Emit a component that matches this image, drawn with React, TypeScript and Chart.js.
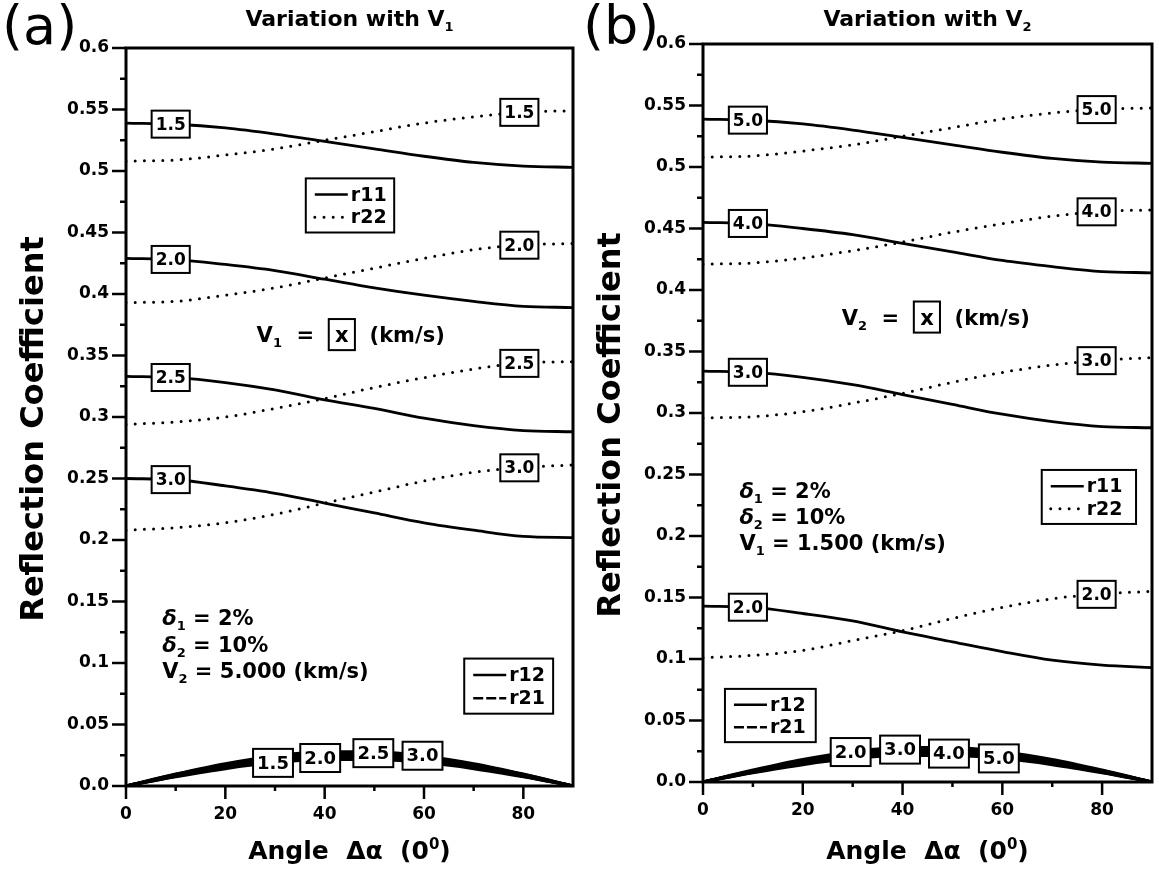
import React, { useEffect, useRef } from 'react';
import { Chart, registerables } from 'chart.js';

Chart.register(...registerables);

const FONT = '"DejaVu Sans", "Liberation Sans", sans-serif';

// ---------------- data ----------------
const ANGLES = [0, 10, 20, 30, 40, 50, 60, 70, 80, 90];
const X_TICK_STEP = 20;
const Y_TICK_STEP = 0.05;
const Y_MAX = 0.6;
const X_MAX = 90;

// Panel (a): variation with V1 (V2 = 5.000 km/s)
const A_CASES = ['1.5', '2.0', '2.5', '3.0'];
const A_R11_15 = [0.539, 0.538, 0.535, 0.530, 0.524, 0.518, 0.512, 0.507, 0.504, 0.503];
const A_R22_15 = [0.508, 0.509, 0.513, 0.518, 0.525, 0.532, 0.539, 0.544, 0.548, 0.549];
const A_R11_20 = [0.429, 0.428, 0.424, 0.419, 0.412, 0.405, 0.399, 0.394, 0.390, 0.389];
const A_R22_20 = [0.393, 0.394, 0.399, 0.405, 0.413, 0.421, 0.429, 0.436, 0.440, 0.441];
const A_R11_25 = [0.333, 0.332, 0.328, 0.322, 0.314, 0.307, 0.299, 0.293, 0.289, 0.288];
const A_R22_25 = [0.294, 0.296, 0.300, 0.307, 0.315, 0.324, 0.332, 0.339, 0.344, 0.345];
const A_R11_30 = [0.250, 0.249, 0.244, 0.238, 0.230, 0.222, 0.214, 0.208, 0.203, 0.202];
const A_R22_30 = [0.208, 0.210, 0.214, 0.221, 0.230, 0.239, 0.248, 0.255, 0.259, 0.261];
const A_R12_15 = [0, 0.0075, 0.0141, 0.0190, 0.0216, 0.0216, 0.0190, 0.0141, 0.0075, 0];
const A_R21_15 = [0, 0.0082, 0.0154, 0.0208, 0.0236, 0.0236, 0.0208, 0.0154, 0.0082, 0];
const A_R12_20 = [0, 0.0080, 0.0150, 0.0202, 0.0230, 0.0230, 0.0202, 0.0150, 0.0080, 0];
const A_R21_20 = [0, 0.0088, 0.0165, 0.0222, 0.0252, 0.0252, 0.0222, 0.0165, 0.0088, 0];
const A_R12_25 = [0, 0.0085, 0.0160, 0.0215, 0.0245, 0.0245, 0.0215, 0.0160, 0.0085, 0];
const A_R21_25 = [0, 0.0093, 0.0175, 0.0235, 0.0267, 0.0267, 0.0235, 0.0175, 0.0093, 0];
const A_R12_30 = [0, 0.0089, 0.0167, 0.0225, 0.0256, 0.0256, 0.0225, 0.0167, 0.0089, 0];
const A_R21_30 = [0, 0.0097, 0.0182, 0.0245, 0.0279, 0.0279, 0.0245, 0.0182, 0.0097, 0];

// Panel (b): variation with V2 (V1 = 1.500 km/s)
const B_CASES = ['5.0', '4.0', '3.0', '2.0'];
const B_R11_50 = [0.539, 0.538, 0.535, 0.530, 0.524, 0.518, 0.512, 0.507, 0.504, 0.503];
const B_R22_50 = [0.508, 0.509, 0.513, 0.518, 0.525, 0.532, 0.539, 0.544, 0.547, 0.548];
const B_R11_40 = [0.455, 0.454, 0.450, 0.445, 0.438, 0.431, 0.424, 0.419, 0.415, 0.414];
const B_R22_40 = [0.421, 0.422, 0.426, 0.432, 0.439, 0.447, 0.454, 0.460, 0.464, 0.465];
const B_R11_30 = [0.334, 0.333, 0.329, 0.323, 0.315, 0.307, 0.299, 0.293, 0.289, 0.288];
const B_R22_30 = [0.296, 0.297, 0.301, 0.308, 0.316, 0.325, 0.333, 0.339, 0.343, 0.345];
const B_R11_20 = [0.143, 0.142, 0.137, 0.131, 0.122, 0.114, 0.106, 0.099, 0.095, 0.093];
const B_R22_20 = [0.101, 0.103, 0.107, 0.115, 0.123, 0.133, 0.142, 0.149, 0.153, 0.155];
const B_R12_50 = [0, 0.0075, 0.0141, 0.0190, 0.0216, 0.0216, 0.0190, 0.0141, 0.0075, 0];
const B_R21_50 = [0, 0.0082, 0.0154, 0.0208, 0.0236, 0.0236, 0.0208, 0.0154, 0.0082, 0];
const B_R12_40 = [0, 0.0080, 0.0150, 0.0203, 0.0231, 0.0231, 0.0203, 0.0150, 0.0080, 0];
const B_R21_40 = [0, 0.0087, 0.0163, 0.0220, 0.0250, 0.0250, 0.0220, 0.0163, 0.0087, 0];
const B_R12_30 = [0, 0.0085, 0.0160, 0.0216, 0.0246, 0.0246, 0.0216, 0.0160, 0.0085, 0];
const B_R21_30 = [0, 0.0092, 0.0173, 0.0233, 0.0265, 0.0265, 0.0233, 0.0173, 0.0092, 0];
const B_R12_20 = [0, 0.0089, 0.0168, 0.0226, 0.0257, 0.0257, 0.0226, 0.0168, 0.0089, 0];
const B_R21_20 = [0, 0.0097, 0.0183, 0.0246, 0.0280, 0.0280, 0.0246, 0.0183, 0.0097, 0];

// ---------------- rich text helpers ----------------
type Seg = { t: string; sub?: boolean; sup?: boolean; it?: boolean; box?: boolean };

function segFont(size: number, seg: Seg, weight: string) {
  const s = seg.sub || seg.sup ? Math.round(size * 0.6) : size;
  return `${seg.it ? 'italic ' : ''}${weight} ${s}px ${FONT}`;
}

function richWidth(ctx: CanvasRenderingContext2D, segs: Seg[], size: number, weight: string) {
  let w = 0;
  for (const s of segs) {
    ctx.font = segFont(size, s, weight);
    w += ctx.measureText(s.t).width + (s.box ? size * 0.6 : 0);
  }
  return w;
}

function drawRich(
  ctx: CanvasRenderingContext2D,
  segs: Seg[],
  x: number,
  yMid: number,
  size: number,
  align: 'left' | 'center',
  weight = 'bold'
) {
  const w = richWidth(ctx, segs, size, weight);
  let cx = align === 'center' ? x - w / 2 : x;
  const base = yMid + size * 0.36;
  ctx.textAlign = 'left';
  ctx.textBaseline = 'alphabetic';
  for (const s of segs) {
    ctx.font = segFont(size, s, weight);
    const tw = ctx.measureText(s.t).width;
    if (s.box) {
      const pad = size * 0.3;
      ctx.lineWidth = 2;
      ctx.strokeRect(cx, yMid - size * 0.74, tw + 2 * pad, size * 1.48);
      ctx.fillText(s.t, cx + pad, base);
      cx += tw + 2 * pad;
    } else {
      const dy = s.sub ? size * 0.24 : s.sup ? -size * 0.42 : 0;
      ctx.fillText(s.t, cx, base + dy);
      cx += tw;
    }
  }
}

function interp(arr: number[], at: number) {
  for (let i = 0; i < ANGLES.length - 1; i++) {
    if (at >= ANGLES[i] && at <= ANGLES[i + 1]) {
      const f = (at - ANGLES[i]) / (ANGLES[i + 1] - ANGLES[i]);
      return arr[i] + f * (arr[i + 1] - arr[i]);
    }
  }
  return arr[arr.length - 1];
}

function valueBox(ctx: CanvasRenderingContext2D, text: string, px: number, py: number, size = 17) {
  ctx.font = `bold ${size}px ${FONT}`;
  const tw = ctx.measureText(text).width;
  const w = tw + 8;
  const h = size + 10;
  ctx.fillStyle = '#fff';
  ctx.fillRect(px - w / 2, py - h / 2, w, h);
  ctx.strokeStyle = '#000';
  ctx.lineWidth = 2;
  ctx.strokeRect(px - w / 2, py - h / 2, w, h);
  ctx.fillStyle = '#000';
  ctx.textAlign = 'center';
  ctx.textBaseline = 'middle';
  ctx.fillText(text, px, py + 1);
}

// ---------------- panel configs ----------------
interface PanelCfg {
  key: string;
  tag: string;
  titleSegs: Seg[];
  cases: string[];
  r11: number[][];
  r22: number[][];
  r12: number[][];
  r21: number[][];
  canvasLeft: number;
  canvasWidth: number;
  area: { left: number; right: number; top: number; bottom: number };
  yTitleX: number;
  tagX: number;
  leftLabelAt: number;
  rightLabelAt: number;
  bandLabels: { series: 'r12' | 'r21'; at: number }[];
  legendMain: number[];
  legendBand: number[];
  vEq: { x: number; y: number; segs: Seg[] };
  params: { x: number; ys: number[]; lines: Seg[][] };
}

const PANEL_A: PanelCfg = {
  key: 'a',
  tag: '(a)',
  titleSegs: [{ t: 'Variation with V' }, { t: '1', sub: true }],
  cases: A_CASES,
  r11: [A_R11_15, A_R11_20, A_R11_25, A_R11_30],
  r22: [A_R22_15, A_R22_20, A_R22_25, A_R22_30],
  r12: [A_R12_15, A_R12_20, A_R12_25, A_R12_30],
  r21: [A_R21_15, A_R21_20, A_R21_25, A_R21_30],
  canvasLeft: 0,
  canvasWidth: 580,
  area: { left: 126, right: 573, top: 48, bottom: 786 },
  yTitleX: 31,
  tagX: 2,
  leftLabelAt: 9,
  rightLabelAt: 79.2,
  bandLabels: [
    { series: 'r12', at: 29.6 },
    { series: 'r12', at: 39.1 },
    { series: 'r21', at: 49.8 },
    { series: 'r21', at: 59.7 },
  ],
  legendMain: [36.2, 54.0, 0.494, 0.45],
  legendBand: [68.1, 86.0, 0.1036, 0.0588],
  vEq: { x: 26.3, y: 0.367, segs: [{ t: 'V' }, { t: '1', sub: true }, { t: '  =  ' }, { t: 'x', box: true }, { t: '  (km/s)' }] },
  params: {
    x: 7.3,
    ys: [0.137, 0.115, 0.094],
    lines: [
      [{ t: 'δ', it: true }, { t: '1', sub: true }, { t: ' = 2%' }],
      [{ t: 'δ', it: true }, { t: '2', sub: true }, { t: ' = 10%' }],
      [{ t: 'V' }, { t: '2', sub: true }, { t: ' = 5.000 (km/s)' }],
    ],
  },
};

const PANEL_B: PanelCfg = {
  key: 'b',
  tag: '(b)',
  titleSegs: [{ t: 'Variation with V' }, { t: '2', sub: true }],
  cases: B_CASES,
  r11: [B_R11_50, B_R11_40, B_R11_30, B_R11_20],
  r22: [B_R22_50, B_R22_40, B_R22_30, B_R22_20],
  r12: [B_R12_20, B_R12_30, B_R12_40, B_R12_50],
  r21: [B_R21_20, B_R21_30, B_R21_40, B_R21_50],
  canvasLeft: 580,
  canvasWidth: 579,
  area: { left: 123, right: 572, top: 44, bottom: 782 },
  yTitleX: 28,
  tagX: 3,
  leftLabelAt: 9,
  rightLabelAt: 78.9,
  bandLabels: [
    { series: 'r21', at: 29.6 },
    { series: 'r21', at: 39.5 },
    { series: 'r12', at: 49.3 },
    { series: 'r12', at: 59.3 },
  ],
  legendMain: [67.9, 86.8, 0.2537, 0.2098],
  legendBand: [4.4, 22.6, 0.0757, 0.0324],
  vEq: { x: 27.8, y: 0.378, segs: [{ t: 'V' }, { t: '2', sub: true }, { t: '  =  ' }, { t: 'x', box: true }, { t: '  (km/s)' }] },
  params: {
    x: 7.3,
    ys: [0.2374, 0.2157, 0.1946],
    lines: [
      [{ t: 'δ', it: true }, { t: '1', sub: true }, { t: ' = 2%' }],
      [{ t: 'δ', it: true }, { t: '2', sub: true }, { t: ' = 10%' }],
      [{ t: 'V' }, { t: '1', sub: true }, { t: ' = 1.500 (km/s)' }],
    ],
  },
};

// band labels: panel b's band arrays are ordered 2.0,3.0,4.0,5.0
const BAND_LABEL_TEXT: Record<string, string[]> = {
  a: A_CASES,
  b: ['2.0', '3.0', '4.0', '5.0'],
};

const DOT_DASH = [0, 9.2];
const R21_DASH = [10, 3];

function makePlugin(cfg: PanelCfg) {
  return {
    id: 'decor_' + cfg.key,
    afterDatasetsDraw(chart: any) {
      const ctx: CanvasRenderingContext2D = chart.ctx;
      const xs = chart.scales.x;
      const ys = chart.scales.y;
      const a = chart.chartArea;
      ctx.save();
      ctx.fillStyle = '#000';
      ctx.strokeStyle = '#000';
      ctx.setLineDash([]);

      // frame
      ctx.lineWidth = 3;
      ctx.strokeRect(a.left, a.top, a.right - a.left, a.bottom - a.top);

      // y ticks (major from scale ticks, minor halfway)
      ctx.lineWidth = 2.5;
      const yt = ys.ticks.map((t: any) => t.value);
      yt.forEach((v: number, i: number) => {
        const y = ys.getPixelForValue(v);
        ctx.beginPath();
        ctx.moveTo(a.left - 14, y);
        ctx.lineTo(a.left, y);
        ctx.stroke();
        if (i < yt.length - 1) {
          const ym = ys.getPixelForValue((v + yt[i + 1]) / 2);
          ctx.beginPath();
          ctx.moveTo(a.left - 6, ym);
          ctx.lineTo(a.left, ym);
          ctx.stroke();
        }
      });
      // x ticks
      const xt = xs.ticks.map((t: any) => t.value);
      xt.forEach((v: number) => {
        const x = xs.getPixelForValue(v);
        ctx.beginPath();
        ctx.moveTo(x, a.bottom);
        ctx.lineTo(x, a.bottom + 13);
        ctx.stroke();
        const xm = xs.getPixelForValue(v + X_TICK_STEP / 2);
        if (v + X_TICK_STEP / 2 < X_MAX) {
          ctx.beginPath();
          ctx.moveTo(xm, a.bottom);
          ctx.lineTo(xm, a.bottom + 5);
          ctx.stroke();
        }
      });

      // value boxes on r11 (left) and r22 (right)
      cfg.cases.forEach((c, i) => {
        valueBox(ctx, c, xs.getPixelForValue(cfg.leftLabelAt), ys.getPixelForValue(interp(cfg.r11[i], cfg.leftLabelAt)));
        valueBox(ctx, c, xs.getPixelForValue(cfg.rightLabelAt), ys.getPixelForValue(interp(cfg.r22[i], cfg.rightLabelAt)));
      });
      // band labels
      const bl = BAND_LABEL_TEXT[cfg.key];
      cfg.bandLabels.forEach((b, i) => {
        const arr = b.series === 'r12' ? cfg.r12[i] : cfg.r21[i];
        valueBox(ctx, bl[i], xs.getPixelForValue(b.at), ys.getPixelForValue(interp(arr, b.at)), 18);
      });

      // legends
      const drawLegend = (box: number[], rows: { label: string; dash: number[]; round: boolean }[]) => {
        const x0 = xs.getPixelForValue(box[0]);
        const x1 = xs.getPixelForValue(box[1]);
        const y0 = ys.getPixelForValue(box[2]);
        const y1 = ys.getPixelForValue(box[3]);
        ctx.fillStyle = '#fff';
        ctx.fillRect(x0, y0, x1 - x0, y1 - y0);
        ctx.setLineDash([]);
        ctx.lineWidth = 2;
        ctx.strokeStyle = '#000';
        ctx.strokeRect(x0, y0, x1 - x0, y1 - y0);
        ctx.fillStyle = '#000';
        rows.forEach((r, k) => {
          const ry = y0 + (y1 - y0) * (k === 0 ? 0.3 : 0.72);
          ctx.save();
          ctx.lineWidth = r.round ? 3 : 2.5;
          ctx.lineCap = r.round ? 'round' : 'butt';
          ctx.setLineDash(r.dash);
          ctx.beginPath();
          ctx.moveTo(x0 + 9, ry);
          ctx.lineTo(x0 + 42, ry);
          ctx.stroke();
          ctx.restore();
          ctx.font = `bold 19px ${FONT}`;
          ctx.textAlign = 'left';
          ctx.textBaseline = 'middle';
          ctx.fillText(r.label, x0 + 45, ry + 1);
        });
      };
      drawLegend(cfg.legendMain, [
        { label: 'r11', dash: [], round: false },
        { label: 'r22', dash: DOT_DASH, round: true },
      ]);
      drawLegend(cfg.legendBand, [
        { label: 'r12', dash: [], round: false },
        { label: 'r21', dash: R21_DASH, round: false },
      ]);

      // V = [x] (km/s)
      ctx.fillStyle = '#000';
      ctx.strokeStyle = '#000';
      drawRich(ctx, cfg.vEq.segs, xs.getPixelForValue(cfg.vEq.x), ys.getPixelForValue(cfg.vEq.y), 21, 'left');
      // parameters
      cfg.params.lines.forEach((ln, k) => {
        drawRich(ctx, ln, xs.getPixelForValue(cfg.params.x), ys.getPixelForValue(cfg.params.ys[k]), 21, 'left');
      });

      // titles
      const cxMid = (a.left + a.right) / 2;
      drawRich(ctx, cfg.titleSegs, cxMid, 18, 22, 'center');
      drawRich(ctx, [{ t: 'Angle  Δα  (0' }, { t: '0', sup: true }, { t: ')' }], cxMid, 850, 25, 'center');
      ctx.save();
      ctx.translate(cfg.yTitleX, (a.top + a.bottom) / 2 + 12);
      ctx.rotate(-Math.PI / 2);
      drawRich(ctx, [{ t: 'Reflection Coefficient' }], 0, 0, 32, 'center');
      ctx.restore();
      // tag
      ctx.font = `54px ${FONT}`;
      ctx.textAlign = 'left';
      ctx.textBaseline = 'alphabetic';
      ctx.fillText(cfg.tag, cfg.tagX, 44);

      ctx.restore();
    },
  };
}

function Panel({ cfg }: { cfg: PanelCfg }) {
  const ref = useRef<HTMLCanvasElement>(null);
  useEffect(() => {
    const canvas = ref.current;
    if (!canvas) return;
    const pts = (arr: number[]) => arr.map((v, i) => ({ x: ANGLES[i], y: v }));
    const base = { pointRadius: 0, borderColor: '#000', fill: false, cubicInterpolationMode: 'monotone' as const };
    const datasets: any[] = [];
    cfg.r22.forEach((arr, i) =>
      datasets.push({ ...base, label: 'r22 ' + cfg.cases[i], data: pts(arr), borderWidth: 3, borderDash: DOT_DASH, borderCapStyle: 'round' })
    );
    cfg.r11.forEach((arr, i) =>
      datasets.push({ ...base, label: 'r11 ' + cfg.cases[i], data: pts(arr), borderWidth: 2.8 })
    );
    cfg.r12.forEach((arr, i) => datasets.push({ ...base, label: 'r12 ' + i, data: pts(arr), borderWidth: 3 }));
    cfg.r21.forEach((arr, i) => datasets.push({ ...base, label: 'r21 ' + i, data: pts(arr), borderWidth: 3 }));

    const tickFont = { family: FONT, size: 17, weight: 'bold' as const };
    const chart = new Chart(canvas, {
      type: 'line',
      data: { datasets },
      options: {
        animation: false,
        responsive: false,
        maintainAspectRatio: false,
        events: [],
        layout: {
          padding: {
            left: 0,
            top: cfg.area.top,
            right: cfg.canvasWidth - cfg.area.right,
            bottom: 0,
          },
        },
        plugins: { legend: { display: false }, tooltip: { enabled: false }, title: { display: false } },
        scales: {
          x: {
            type: 'linear',
            min: 0,
            max: X_MAX,
            border: { display: false },
            grid: { display: false, drawTicks: false },
            ticks: { stepSize: X_TICK_STEP, font: tickFont, color: '#000', padding: 18, maxRotation: 0 },
            afterBuildTicks: (s: any) => {
              s.ticks = s.ticks.filter((t: any) => t.value % X_TICK_STEP === 0 && t.value < X_MAX);
            },
            afterFit: (s: any) => {
              s.height = 869 - cfg.area.bottom;
            },
          },
          y: {
            type: 'linear',
            min: 0,
            max: Y_MAX,
            border: { display: false },
            grid: { display: false, drawTicks: false },
            ticks: {
              stepSize: Y_TICK_STEP,
              font: tickFont,
              color: '#000',
              padding: 17,
              callback: (v: any) => {
                const r = Math.round(Number(v) * 1000) / 1000;
                return r === 0 ? '0.0' : String(r);
              },
            },
            afterFit: (s: any) => {
              s.width = cfg.area.left;
            },
          },
        },
      },
      plugins: [makePlugin(cfg)],
    });
    return () => chart.destroy();
  }, [cfg]);
  return (
    <canvas
      ref={ref}
      width={cfg.canvasWidth}
      height={869}
      style={{ position: 'absolute', left: cfg.canvasLeft, top: 0, width: cfg.canvasWidth, height: 869 }}
    />
  );
}

export default function App() {
  return (
    <div style={{ position: 'absolute', left: 0, top: 0, width: 1159, height: 869, background: '#fff', overflow: 'hidden' }}>
      <Panel cfg={PANEL_A} />
      <Panel cfg={PANEL_B} />
    </div>
  );
}
